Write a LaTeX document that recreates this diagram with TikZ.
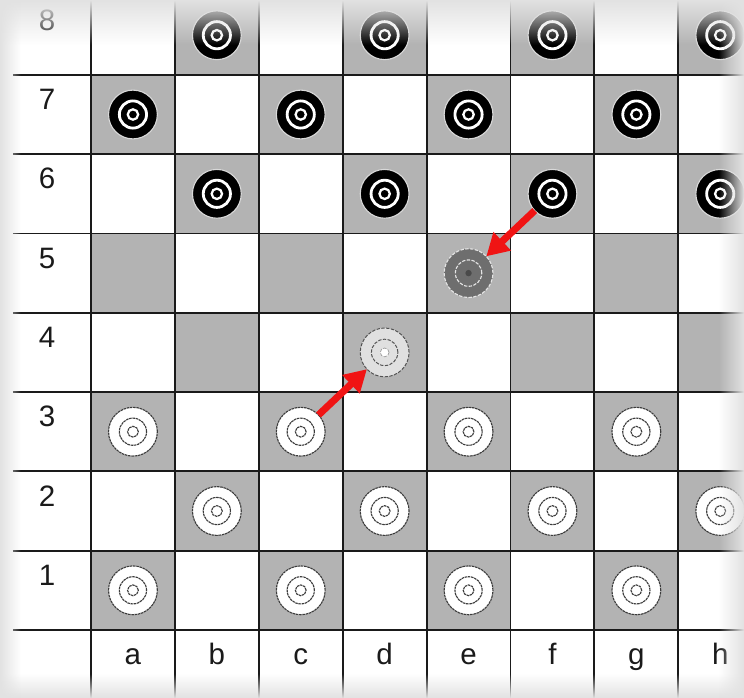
\documentclass[tikz,border=0pt]{standalone}
\usepackage{fontspec}
\setmainfont{Liberation Sans}
\usetikzlibrary{arrows.meta, fadings}
\definecolor{ckInk}{HTML}{1A1A1A}
\definecolor{ckGrey}{HTML}{B3B3B3}
\definecolor{ckRed}{HTML}{F01414}
\definecolor{ckGhost}{HTML}{6E6E6E}
\definecolor{ckGhostDot}{HTML}{4A4A4A}
\definecolor{ckGhostLt}{HTML}{E0E0E0}
\definecolor{ckHaze}{HTML}{E2E2E2}
\tikzfading[name=hazeTop, top color=transparent!0, bottom color=transparent!100]
\tikzfading[name=hazeBottom, top color=transparent!100, bottom color=transparent!0]
\tikzfading[name=hazeLeft, left color=transparent!0, right color=transparent!100]
\tikzfading[name=hazeRight, left color=transparent!100, right color=transparent!0]
\tikzset{
  man/.style={circle, minimum size=12.2mm, inner sep=0pt, outer sep=0pt},
  blackman/.style={man, fill=black, draw=white!85!black, line width=0.8pt,
    path picture={
      \draw[white, solid, line width=2pt] (path picture bounding box.center) circle (3.4mm);
      \draw[white, solid, line width=1.6pt] (path picture bounding box.center) circle (1.3mm);
    }},
  whiteman/.style={man, fill=white, draw=ckInk!85, line width=0.8pt,
    dash pattern=on 1.8pt off 0.5pt,
    path picture={
      \draw[ckInk!85, line width=0.8pt, dash pattern=on 1.8pt off 0.5pt]
        (path picture bounding box.center) circle (3.4mm);
      \draw[ckInk!85, line width=0.8pt] (path picture bounding box.center) circle (1.35mm);
    }},
  ghostdark/.style={man, fill=ckGhost, draw=white!90!black, line width=0.8pt,
    dash pattern=on 2.4pt off 1pt,
    path picture={
      \draw[white!90!black, line width=0.8pt, dash pattern=on 2.4pt off 1pt]
        (path picture bounding box.center) circle (3.3mm);
      \fill[ckGhostDot] (path picture bounding box.center) circle (0.8mm);
    }},
  ghostlight/.style={man, fill=ckGhostLt, draw=ckInk!75, line width=0.7pt,
    dash pattern=on 2.4pt off 1pt,
    path picture={
      \draw[ckInk!75, line width=0.7pt, dash pattern=on 2.4pt off 1pt]
        (path picture bounding box.center) circle (3.3mm);
      \draw[fill=white, draw=ckInk!45, line width=0.5pt]
        (path picture bounding box.center) circle (1.1mm);
    }},
  gridline/.style={draw=ckInk, line width=1.3pt},
  rank/.style={font=\fontsize{21}{24}\selectfont, text=ckInk, inner sep=0pt, anchor=base},
  movearrow/.style={-{Triangle[length=5.5mm, width=6mm]}, line width=5pt, draw=ckRed},
}

\begin{document}
\begin{tikzpicture}[x=2.0975cm, y=1.9825cm]
  \useasboundingbox (-1.0846,-0.8575) rectangle (7.783,7.944);
  \clip (-1.0846,-0.8575) rectangle (7.783,7.944);
  \fill[white] (-1.0846,-0.8575) rectangle (7.783,7.944);
  % dark squares
  \foreach \x in {1,...,8}
    \foreach \y in {1,...,8} {
      \pgfmathparse{int(mod(\x+\y,2))}
      \ifnum\pgfmathresult=0
        \fill[ckGrey] (\x-1,\y-1) rectangle (\x,\y);
      \fi
    }
  \foreach \x in {0,...,7}
    \draw[gridline] (\x,-0.9) -- (\x,8);
  \foreach \y in {0,...,7}
    \draw[gridline] (-0.93,\y) -- (7.9,\y);
  % ranks and files
  \foreach \y in {1,...,8}
    \node[rank] (rk\y) at (-0.524,\y-0.437) {\y};
  \foreach \col [count=\x] in {a,...,h}
    \node[rank] (fl\col) at (\x-0.5,-0.441) {\col};
  % pieces
  \foreach \sq/\x/\y in {b8/2/8, d8/4/8, f8/6/8, h8/8/8,
                         a7/1/7, c7/3/7, e7/5/7, g7/7/7,
                         b6/2/6, d6/4/6, f6/6/6, h6/8/6}
    \node[blackman] (\sq) at (\x-0.5,\y-0.5) {};
  \foreach \sq/\x/\y in {a3/1/3, c3/3/3, e3/5/3, g3/7/3,
                         b2/2/2, d2/4/2, f2/6/2, h2/8/2,
                         a1/1/1, c1/3/1, e1/5/1, g1/7/1}
    \node[whiteman] (\sq) at (\x-0.5,\y-0.5) {};
  \node[ghostdark] (e5) at (4.5,4.5) {};
  \node[ghostlight] (d4) at (3.5,3.5) {};
  \draw[movearrow] (f6) -- (e5);
  \draw[movearrow] (c3) -- (d4);
  % haze round the edges
  \fill[ckHaze, path fading=hazeTop] (-1.0846,7.38) rectangle (7.783,7.944);
  \fill[ckHaze, path fading=hazeBottom] (-1.0846,-0.8575) rectangle (7.783,-0.55);
  \fill[ckHaze, path fading=hazeLeft] (-1.0846,-0.8575) rectangle (-0.84,7.944);
  \fill[ckHaze, path fading=hazeRight] (7.48,-0.8575) rectangle (7.783,7.944);
\end{tikzpicture}
\end{document}
